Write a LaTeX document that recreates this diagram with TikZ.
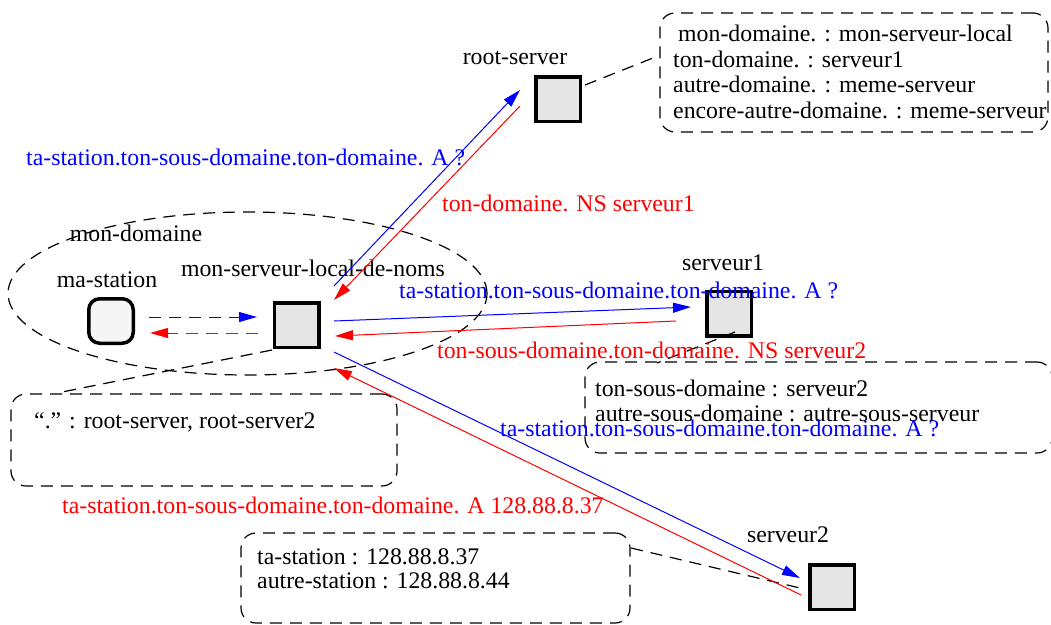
\documentclass[tikz,border=0pt]{standalone}
\usepackage{fontspec}
\setmainfont{Liberation Serif}
\usetikzlibrary{arrows.meta,shapes.geometric}
\definecolor{srvgray}{RGB}{229,229,229}
\definecolor{stagray}{RGB}{245,245,245}
\newcommand\myfs{\fontsize{23.8}{25.7}\selectfont}
\tikzset{
  srv/.style={draw, line width=3.5pt, fill=srvgray, minimum size=44.5pt, inner sep=0pt},
  sta/.style={draw, line width=3.5pt, fill=stagray, minimum size=44.5pt, rounded corners=11pt, inner sep=0pt},
  dbox/.style={draw, dash pattern=on 12pt off 8pt, line width=1.2pt, rounded corners=15pt, inner sep=0pt},
  dline/.style={dash pattern=on 12pt off 8pt, line width=1.2pt},
  txt/.style={inner sep=0pt, font=\myfs},
  btxt/.style={txt, align=left, anchor=west},
  tip/.style={-{Triangle[length=18pt,width=10pt]}},
  barrow/.style={blue, line width=1pt, tip},
  rarrow/.style={red, line width=1pt, tip},
}
\begin{document}
\begin{tikzpicture}[x=1pt,y=-1pt]
\useasboundingbox (0,0) rectangle (1051,624);
% domain ellipse
\node[ellipse, draw, dline, minimum width=479pt, minimum height=163pt, inner sep=0pt] (dom) at (247.5,293.5) {};
\node[txt] (domlbl) at (136,233) {mon-domaine};
% hosts
\node[sta] (ms) at (111,321) {};
\node[txt] (mslbl) at (107,280) {ma-station};
\node[srv] (ml) at (296.5,325) {};
\node[txt] (mllbl) at (313,268) {mon-serveur-local-de-noms};
\node[srv] (root) at (558,99) {};
\node[txt] (rootlbl) at (515,58) {root-server};
\node[srv] (s1) at (729,313.5) {};
\node[txt] (s1lbl) at (723,263) {serveur1};
\node[srv] (s2) at (832,587) {};
\node[txt] (s2lbl) at (788,535) {serveur2};
% dashed info boxes
\node[dbox, minimum width=388pt, minimum height=119pt] (tr) at (854,72.5) {};
\node[btxt] (trtxt) at (673,72) {\hspace*{5pt}mon-domaine. : mon-serveur-local\\ton-domaine. : serveur1\\autre-domaine. : meme-serveur\\encore-autre-domaine. : meme-serveur};
\node[dbox, minimum width=467pt, minimum height=91pt] (b2) at (818.5,407.5) {};
\node[btxt, font=\fontsize{23.8}{25}\selectfont] (b2txt) at (595,400.5) {ton-sous-domaine : serveur2\\autre-sous-domaine : autre-sous-serveur};
\node[dbox, minimum width=386pt, minimum height=92pt] (b0) at (204,440) {};
\node[btxt] (b0txt) at (34,422) {“.” : root-server, root-server2};
\node[dbox, minimum width=389pt, minimum height=90pt] (b3) at (435.5,578) {};
\node[btxt, font=\fontsize{23.8}{23.5}\selectfont] (b3txt) at (257,568.5) {ta-station : 128.88.8.37\\autre-station : 128.88.8.44};
% connector end points
\coordinate (rA) at (585,85);  \coordinate (trA) at (658,56);
\coordinate (s1A) at (735,332); \coordinate (b2A) at (657,363);
\coordinate (mlA) at (272,350); \coordinate (b0A) at (57,393);
\coordinate (b3A) at (631,548); \coordinate (s2A) at (800,588);
\draw[dline] (rA) -- (trA);
\draw[dline] (s1A) -- (b2A);
\draw[dline] (mlA) -- (b0A);
\draw[dline] (b3A) -- (s2A);
% local dashed arrows
\coordinate (msq) at (149,317); \coordinate (mlq) at (257,317);
\coordinate (mlr) at (258,333); \coordinate (msr) at (150,333);
\draw[barrow, dash pattern=on 12pt off 8pt] (msq) -- (mlq);
\draw[rarrow, dash pattern=on 12pt off 8pt] (mlr) -- (msr);
% queries / answers
\coordinate (q1a) at (334,286); \coordinate (q1b) at (520,90);
\coordinate (a1a) at (520,106); \coordinate (a1b) at (334,300);
\coordinate (q2a) at (334,321); \coordinate (q2b) at (691,307);
\coordinate (a2a) at (676,321); \coordinate (a2b) at (335,336);
\coordinate (q3a) at (334,352); \coordinate (q3b) at (800,578);
\coordinate (a3a) at (801,595); \coordinate (a3b) at (334,368);
\draw[barrow] (q1a) -- (q1b);
\draw[rarrow] (a1a) -- (a1b);
\draw[barrow] (q2a) -- (q2b);
\draw[rarrow] (a2a) -- (a2b);
\draw[barrow] (q3a) -- (q3b);
\draw[rarrow] (a3a) -- (a3b);
% message labels
\node[txt, blue, anchor=west] (l1) at (26,157) {ta-station.ton-sous-domaine.ton-domaine. A ?};
\node[txt, red, anchor=west] (l2) at (442,203) {ton-domaine. NS serveur1};
\node[txt, blue, anchor=west] (l3) at (399,290) {ta-station.ton-sous-domaine.ton-domaine. A ?};
\node[txt, red, anchor=west] (l4) at (437,350) {ton-sous-domaine.ton-domaine. NS serveur2};
\node[txt, blue, anchor=west] (l5) at (500,428) {ta-station.ton-sous-domaine.ton-domaine. A ?};
\node[txt, red, anchor=west] (l6) at (62,505) {ta-station.ton-sous-domaine.ton-domaine. A 128.88.8.37};
\end{tikzpicture}
\end{document}
